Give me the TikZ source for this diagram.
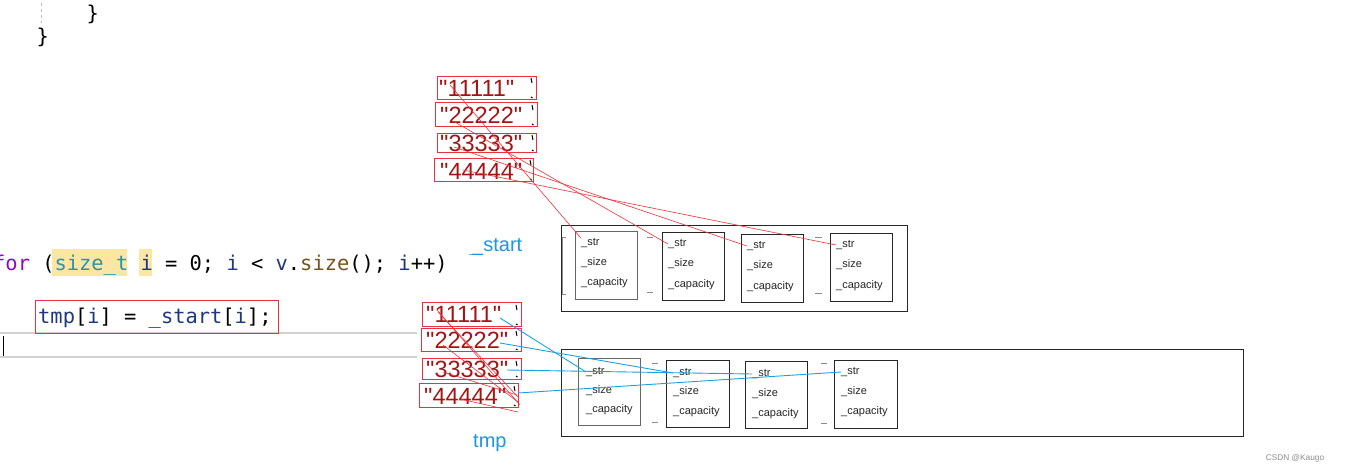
\documentclass[tikz,border=0pt]{standalone}
\usepackage{fontspec}
\setmainfont{Liberation Sans}
\newfontfamily\codefont{DejaVu Sans Mono}
\newfontfamily\strfont[Ligatures=TeXOff]{Liberation Sans}
\definecolor{kw}{HTML}{8F08C4}
\definecolor{ty}{HTML}{2B91AF}
\definecolor{var}{HTML}{1F377F}
\definecolor{fn}{HTML}{74531F}
\definecolor{hl}{HTML}{FCE6A4}
\definecolor{strc}{HTML}{A31515}
\definecolor{redb}{HTML}{E8333F}
\definecolor{redl}{HTML}{F0303A}
\definecolor{bluel}{HTML}{1BA1E2}
\definecolor{lab}{HTML}{1E96E0}
\begin{document}
\begin{tikzpicture}[x=1pt,y=-1pt,
  codetxt/.style={font=\codefont\fontsize{20.4}{24}\selectfont, inner sep=0, anchor=base west},
  strtxt/.style={font=\strfont\fontsize{23.5}{28}\selectfont, text=strc, inner sep=0, anchor=base west},
  sbox/.style={draw=redb, line width=0.9pt, inner sep=0},
  frame/.style={draw=black!85, line width=1pt, inner sep=0},
  cell/.style={draw=black!85, line width=0.9pt, inner sep=0, minimum width=62, minimum height=67},
  fld/.style={font=\fontsize{11}{13}\selectfont, text=black!85, inner sep=0, anchor=west},
  redline/.style={draw=redl, line width=0.6pt},
  blueline/.style={draw=bluel, line width=0.9pt},
  dashmark/.style={draw=black!45, line width=0.9pt},
  tick/.style={draw=black, line width=1pt},
  lbl/.style={font=\fontsize{20}{24}\selectfont, text=lab, inner sep=0, anchor=base west}]
\useasboundingbox (0,0) rectangle (1352,474);
\fill[white] (0,0) rectangle (1352,474);

% top of the code
\draw[black!25, dashed, line width=1pt] (41,3) -- (41,23);
\node[codetxt] (br1) at (86.5,20) {\}};
\node[codetxt] (br2) at (36.5,43) {\}};

% for line
\fill[hl] (52,249) rectangle (127,276);
\fill[hl] (139,249) rectangle (152,276);
\node[codetxt] (forline) at (-7,270) {\textcolor{kw}{for} (\textcolor{ty}{size\_t} \textcolor{var}{i} = 0; \textcolor{var}{i} < \textcolor{var}{v}.\textcolor{fn}{size}(); \textcolor{var}{i}++)};
\draw[bluel!70, line width=1pt] (469,254) -- (478,254);

% current line highlight
\draw[black!18, line width=1.5pt] (0,333) -- (417,333);
\draw[black!18, line width=1.5pt] (0,357) -- (417,357);
\draw[black, line width=0.8pt] (3,336) -- (3,356);

% tmp line
\node[draw=redb, line width=1pt, inner sep=0, minimum width=243, minimum height=33] (tmpbox) at (156.5,316.5) {};
\node[codetxt] (tmpline) at (38,323) {\textcolor{var}{tmp}[\textcolor{var}{i}] = \textcolor{var}{\_start}[\textcolor{var}{i}];};

% labels
\node[lbl] (startlbl) at (472,251) {\_start};
\node[lbl] (tmplbl) at (473,447) {tmp};

% top strings
\node[sbox, minimum width=99, minimum height=23] (ts1) at (486.5,87.5) {};
\node[sbox, minimum width=102, minimum height=24] (ts2) at (486,114) {};
\node[sbox, minimum width=99, minimum height=19] (ts3) at (486.5,142.5) {};
\node[sbox, minimum width=99, minimum height=23] (ts4) at (483.5,169.5) {};
\node[strtxt] (tt1) at (439,96) {"11111"};
\node[strtxt] (tt2) at (440,123) {"22222"};
\node[strtxt] (tt3) at (440,151) {"33333"};
\node[strtxt] (tt4) at (440,179) {"44444"};

% bottom strings
\node[sbox, minimum width=99, minimum height=24] (bs1) at (471.5,314) {};
\node[sbox, minimum width=100, minimum height=23] (bs2) at (471,339.5) {};
\node[sbox, minimum width=99, minimum height=21] (bs3) at (471.5,368.5) {};
\node[sbox, minimum width=99, minimum height=24] (bs4) at (468.5,395) {};
\node[strtxt] (bt1) at (426,322) {"11111"};
\node[strtxt] (bt2) at (426,348) {"22222"};
\node[strtxt] (bt3) at (426,377) {"33333"};
\node[strtxt] (bt4) at (424,404) {"44444"};

% small black ticks at right of the strings
\foreach \x/\y/\z in {531/78/97, 532/105/124, 532/135/150, 530/160/179, 516/305/324, 516/331/349, 516/361/376, 514/386/405}{
  \draw[tick] (\x,\y) -- (\x+1,\y+5);
  \draw[tick] (\x,\z) -- (\x+1.5,\z+1);
}

% top frame
\node[frame, minimum width=346, minimum height=86] (topframe) at (734,268) {};
\node[cell, draw=black!60, minimum height=68] (ta1) at (606,265) {};
\node[cell, minimum height=68] (ta2) at (693,266) {};
\node[cell, minimum height=68] (ta3) at (772,268) {};
\node[cell, minimum height=68] (ta4) at (861,267) {};
\node[fld] (ta1s) at (581,243) {\_str};
\node[fld] (ta1z) at (581,263) {\_size};
\node[fld] (ta1c) at (581,283) {\_capacity};
\node[fld] (ta2s) at (668,244) {\_str};
\node[fld] (ta2z) at (668,264) {\_size};
\node[fld] (ta2c) at (668,285) {\_capacity};
\node[fld] (ta3s) at (747,246) {\_str};
\node[fld] (ta3z) at (747,266) {\_size};
\node[fld] (ta3c) at (747,287) {\_capacity};
\node[fld] (ta4s) at (836,245) {\_str};
\node[fld] (ta4z) at (836,265) {\_size};
\node[fld] (ta4c) at (836,286) {\_capacity};
\draw[dashmark] (566,237) -- (562,237) -- (562,294) -- (566,294);
\draw[dashmark] (647,237) -- (653,237);
\draw[dashmark] (647,292) -- (653,292);
\draw[dashmark] (815,237) -- (822,237);
\draw[dashmark] (815,293) -- (822,293);

% bottom frame
\node[frame, minimum width=682, minimum height=87] (botframe) at (902,392.5) {};
\node[cell, draw=black!60] (tb1) at (609,391.5) {};
\node[cell, minimum width=63] (tb2) at (697.5,393.5) {};
\node[cell] (tb3) at (776,394.5) {};
\node[cell, minimum width=63, minimum height=68] (tb4) at (865.5,394) {};
\node[fld] (tb1s) at (586,372) {\_str};
\node[fld] (tb1z) at (586,391) {\_size};
\node[fld] (tb1c) at (586,410) {\_capacity};
\node[fld] (tb2s) at (673,373) {\_str};
\node[fld] (tb2z) at (673,392) {\_size};
\node[fld] (tb2c) at (673,412) {\_capacity};
\node[fld] (tb3s) at (752,374) {\_str};
\node[fld] (tb3z) at (752,394) {\_size};
\node[fld] (tb3c) at (752,414) {\_capacity};
\node[fld] (tb4s) at (841,372) {\_str};
\node[fld] (tb4z) at (841,392) {\_size};
\node[fld] (tb4c) at (841,412) {\_capacity};
\draw[dashmark] (652,363) -- (658,363);
\draw[dashmark] (652,422) -- (658,422);
\draw[dashmark] (821,363) -- (827,363);
\draw[dashmark] (821,423) -- (827,423);

% top red connectors
\coordinate (r1) at (450,85);
\coordinate (r2) at (453,121);
\coordinate (r3) at (454,147);
\coordinate (r4) at (463,170);
\draw[redline] (r1) -- (ta1s.north west);
\draw[redline] (r2) -- (ta2s.west);
\draw[redline] (r3) -- (ta3s.west);
\draw[redline] (r4) -- (ta4s.west);

% bottom red strokes
\coordinate (q1a) at (437,310); \coordinate (q1b) at (520,405);
\coordinate (q2a) at (438,312); \coordinate (q2b) at (518,397);
\coordinate (q3a) at (443,345); \coordinate (q3b) at (518,402);
\coordinate (q4a) at (443,372); \coordinate (q4b) at (517,395);
\coordinate (q5a) at (460,399); \coordinate (q5b) at (518,412);
\draw[redline] (q1a) -- (q1b);
\draw[redline] (q2a) -- (q2b);
\draw[redline] (q3a) -- (q3b);
\draw[redline] (q4a) -- (q4b);
\draw[redline] (q5a) -- (q5b);

% blue connectors
\coordinate (b1) at (500,318);
\coordinate (b2) at (500,343);
\coordinate (b3) at (507,370);
\coordinate (b4) at (518,393);
\draw[blueline] (b1) -- (tb1s.west);
\draw[blueline] (b2) -- (tb2s.west);
\draw[blueline] (b3) -- (tb3s.west);
\draw[blueline] (b4) -- (tb4s.west);

% watermark
\node[font=\fontsize{8.3}{10}\selectfont, text=black!45, inner sep=0] (wm) at (1295,458) {CSDN @Kaugo};
\end{tikzpicture}
\end{document}
